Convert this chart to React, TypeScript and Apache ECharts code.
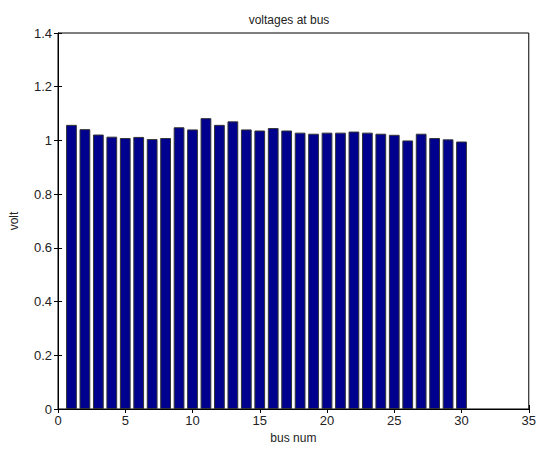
import React, { useEffect, useRef } from "react";
import * as echarts from "echarts";

const busNumbers = [1,2,3,4,5,6,7,8,9,10,11,12,13,14,15,16,17,18,19,20,21,22,23,24,25,26,27,28,29,30];
const voltages = [1.058,1.042,1.022,1.014,1.009,1.013,1.005,1.009,1.049,1.041,1.083,1.058,1.071,1.041,1.037,1.046,1.037,1.029,1.025,1.029,1.029,1.033,1.029,1.025,1.021,1.000,1.025,1.009,1.004,0.996];

export default function App() {
  const ref = useRef<HTMLDivElement>(null);
  useEffect(() => {
    if (!ref.current) return;
    const chart = echarts.init(ref.current, null, { renderer: "svg" });
    const font = "Liberation Sans";
    const color = "#222";
    const axisCommon = {
      axisLine: { show: true, lineStyle: { color: "#000", width: 1 } },
      axisTick: { show: true, inside: true, length: 4, lineStyle: { color: "#000" } },
      splitLine: { show: false },
    };
    chart.setOption({
      animation: false,
      backgroundColor: "#fff",
      title: {
        text: "voltages at bus",
        left: 284,
        textAlign: "center",
        top: 9,
        textStyle: { fontFamily: font, fontSize: 12, fontWeight: "normal", color },
      },
      grid: { left: 58, right: 4, top: 33, bottom: 44, show: true, borderColor: "#000", borderWidth: 1, backgroundColor: "#fff" },
      xAxis: [
        {
          type: "value", min: 0, max: 35, interval: 5, position: "bottom",
          name: "bus num", nameLocation: "middle", nameGap: 22,
          nameTextStyle: { fontFamily: font, fontSize: 12, color },
          axisLabel: { fontFamily: font, fontSize: 13, color, margin: 5 },
          ...axisCommon,
        },
        {
          type: "value", min: 0, max: 35, interval: 5, position: "top",
          axisLabel: { show: false },
          ...axisCommon,
        },
      ],
      yAxis: [
        {
          type: "value", min: 0, max: 1.4, interval: 0.2, position: "left",
          name: "volt", nameLocation: "middle", nameGap: 38,
          nameTextStyle: { fontFamily: font, fontSize: 12, color },
          axisLabel: { fontFamily: font, fontSize: 13, color, margin: 6,
            formatter: (v: number) => String(Math.round(v * 10) / 10) },
          ...axisCommon,
        },
        {
          type: "value", min: 0, max: 1.4, interval: 0.2, position: "right",
          axisLabel: { show: false },
          ...axisCommon,
        },
      ],
      series: [
        {
          type: "bar",
          xAxisIndex: 0,
          yAxisIndex: 0,
          barWidth: "80%",
          data: busNumbers.map((b, i) => [b, voltages[i]]),
          itemStyle: { color: "#00008F", borderColor: "#333", borderWidth: 1 },
        },
      ],
    });
    return () => chart.dispose();
  }, []);
  return <div ref={ref} style={{ width: 539, height: 453, position: "absolute", left: 0, top: 0 }} />;
}
